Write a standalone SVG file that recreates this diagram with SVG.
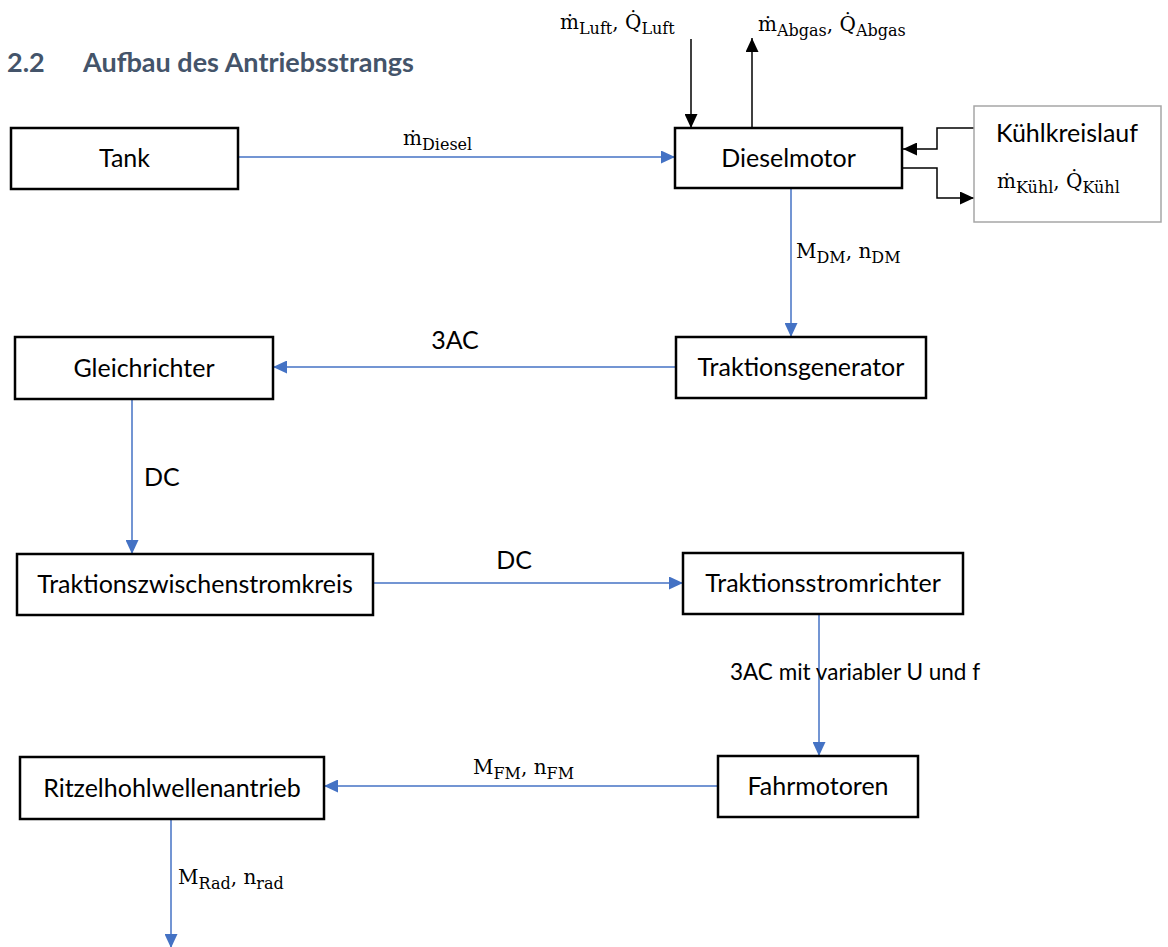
<svg xmlns="http://www.w3.org/2000/svg" width="1168" height="947" viewBox="0 0 1168 947">
  <style>
    .box { fill: #ffffff; stroke: #000000; stroke-width: 2.5; }
    .box-light { fill: #ffffff; stroke: #a6a6a6; stroke-width: 1.5; }
    .lbl { font-family: Lato, "Liberation Sans", sans-serif; font-size: 25px; fill: #000000; }
    .lbl-small { font-size: 22.5px; }
    .mid { text-anchor: middle; }
    .math { font-family: "DejaVu Serif", "Liberation Serif", serif; font-size: 20px; fill: #000000; }
    .sub { font-size: 16px; }
    .flow { fill: none; stroke: #4472c4; stroke-width: 1.5; }
    .media { fill: none; stroke: #000000; stroke-width: 1.5; }
    .head { font-family: Lato, "Liberation Sans", sans-serif; font-weight: bold; font-size: 27px; fill: #44546a; }
  </style>
  <defs>
    <marker id="arrow-blue" markerUnits="userSpaceOnUse" markerWidth="15" markerHeight="13" refX="14" refY="6.5" orient="auto">
      <path d="M0,0 L14,6.5 L0,13 z" fill="#4472c4"/>
    </marker>
    <marker id="arrow-black" markerUnits="userSpaceOnUse" markerWidth="15" markerHeight="13" refX="14" refY="6.5" orient="auto">
      <path d="M0,0 L14,6.5 L0,13 z" fill="#000000"/>
    </marker>
  </defs>

  <rect width="1168" height="947" fill="#ffffff"/>

  <!-- section heading -->
  <g id="heading">
    <text class="head" x="7" y="72">2.2</text>
    <text class="head" x="83" y="72">Aufbau des Antriebsstrangs</text>
  </g>

  <!-- connectors -->
  <g id="connectors">
    <line class="flow" x1="238" y1="157" x2="675" y2="157" marker-end="url(#arrow-blue)"/>
    <line class="media" x1="691" y1="39" x2="691" y2="128" marker-end="url(#arrow-black)"/>
    <line class="media" x1="752" y1="128" x2="752" y2="38" marker-end="url(#arrow-black)"/>
    <polyline class="media" points="974,128 937,128 937,149 903,149" marker-end="url(#arrow-black)"/>
    <polyline class="media" points="902,168 937,168 937,198 974,198" stroke="#333333" marker-end="url(#arrow-black)"/>
    <line class="flow" x1="791" y1="188" x2="791" y2="337" marker-end="url(#arrow-blue)"/>
    <line class="flow" x1="676" y1="367" x2="273" y2="367" marker-end="url(#arrow-blue)"/>
    <line class="flow" x1="132" y1="399" x2="132" y2="554" marker-end="url(#arrow-blue)"/>
    <line class="flow" x1="373" y1="583" x2="683" y2="583" marker-end="url(#arrow-blue)"/>
    <line class="flow" x1="819" y1="614" x2="819" y2="756" marker-end="url(#arrow-blue)"/>
    <line class="flow" x1="718" y1="786" x2="324" y2="786" marker-end="url(#arrow-blue)"/>
    <line class="flow" x1="171" y1="819" x2="171" y2="948" marker-end="url(#arrow-blue)"/>
  </g>

  <!-- connector labels -->
  <g id="connector-labels">
    <text class="math" x="560" y="29">ṁ<tspan class="sub" dy="5">Luft</tspan><tspan dy="-5">, Q̇</tspan><tspan class="sub" dy="5">Luft</tspan></text>
    <text class="math" x="758" y="31">ṁ<tspan class="sub" dy="5">Abgas</tspan><tspan dy="-5">, Q̇</tspan><tspan class="sub" dy="5">Abgas</tspan></text>
    <text class="math" x="403" y="145">ṁ<tspan class="sub" dy="5">Diesel</tspan></text>
    <text class="math" x="796" y="258">M<tspan class="sub" dy="5">DM</tspan><tspan dy="-5">, n</tspan><tspan class="sub" dy="5">DM</tspan></text>
    <text class="lbl mid" x="455" y="349">3AC</text>
    <text class="lbl" x="144" y="486">DC</text>
    <text class="lbl mid" x="514" y="569">DC</text>
    <text class="lbl lbl-small" x="730" y="680">3AC mit variabler U und f</text>
    <text class="math" x="473" y="774">M<tspan class="sub" dy="5">FM</tspan><tspan dy="-5">, n</tspan><tspan class="sub" dy="5">FM</tspan></text>
    <text class="math" x="178" y="884">M<tspan class="sub" dy="5">Rad</tspan><tspan dy="-5">, n</tspan><tspan class="sub" dy="5">rad</tspan></text>
  </g>

  <!-- nodes -->
  <g id="tank">
    <rect class="box" x="11" y="128" width="227" height="61"/>
    <text class="lbl mid" x="124.5" y="167">Tank</text>
  </g>
  <g id="dieselmotor">
    <rect class="box" x="675" y="128" width="227" height="60"/>
    <text class="lbl mid" x="788.5" y="166.5">Dieselmotor</text>
  </g>
  <g id="kuehlkreislauf">
    <rect class="box-light" x="974" y="106" width="187" height="116"/>
    <text class="lbl mid" x="1067" y="142">Kühlkreislauf</text>
    <text class="math" x="997" y="188">ṁ<tspan class="sub" dy="5">Kühl</tspan><tspan dy="-5">, Q̇</tspan><tspan class="sub" dy="5">Kühl</tspan></text>
  </g>
  <g id="traktionsgenerator">
    <rect class="box" x="676" y="337" width="250" height="61"/>
    <text class="lbl mid" x="801" y="376">Traktionsgenerator</text>
  </g>
  <g id="gleichrichter">
    <rect class="box" x="15" y="337" width="258" height="62"/>
    <text class="lbl mid" x="144" y="376.5">Gleichrichter</text>
  </g>
  <g id="traktionszwischenstromkreis">
    <rect class="box" x="17" y="554" width="356" height="61"/>
    <text class="lbl mid" x="195" y="593">Traktionszwischenstromkreis</text>
  </g>
  <g id="traktionsstromrichter">
    <rect class="box" x="683" y="553" width="280" height="61"/>
    <text class="lbl mid" x="823" y="592">Traktionsstromrichter</text>
  </g>
  <g id="fahrmotoren">
    <rect class="box" x="718" y="756" width="200" height="61"/>
    <text class="lbl mid" x="818" y="795">Fahrmotoren</text>
  </g>
  <g id="ritzelhohlwellenantrieb">
    <rect class="box" x="20" y="757" width="304" height="62"/>
    <text class="lbl mid" x="172" y="796.5">Ritzelhohlwellenantrieb</text>
  </g>
</svg>
